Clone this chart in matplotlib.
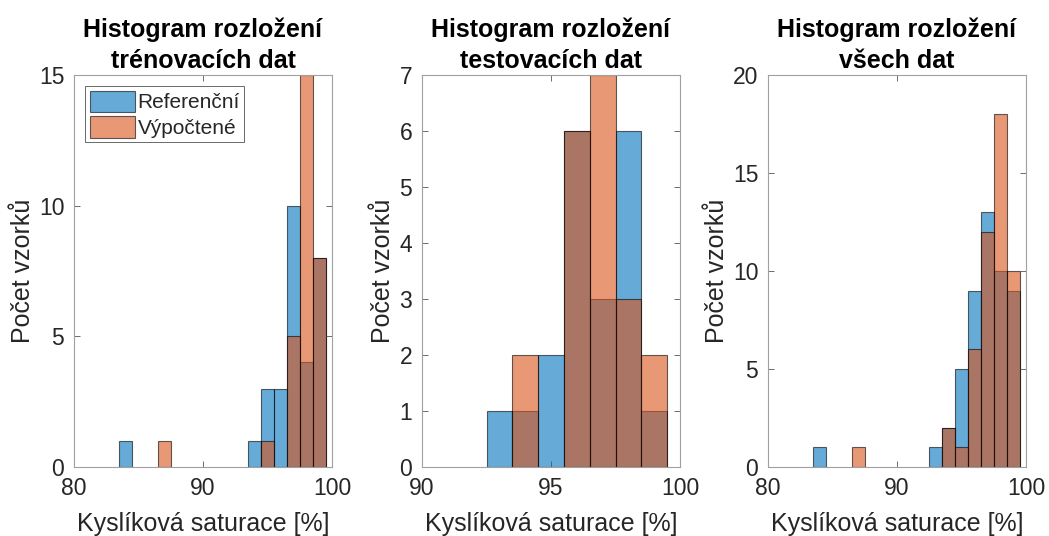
import numpy as np
import matplotlib.pyplot as plt

# counts per 1 % bin (key = left bin edge) for each data set
train_ref = {83.5: 1, 93.5: 1, 94.5: 3, 95.5: 3, 96.5: 10, 97.5: 4, 98.5: 8}
train_calc = {86.5: 1, 94.5: 1, 96.5: 5, 97.5: 15, 98.5: 8}

test_ref = {92.5: 1, 93.5: 1, 94.5: 2, 95.5: 6, 96.5: 3, 97.5: 6, 98.5: 1}
test_calc = {93.5: 2, 95.5: 6, 96.5: 7, 97.5: 3, 98.5: 2}

all_ref = {83.5: 1, 92.5: 1, 93.5: 2, 94.5: 5, 95.5: 9, 96.5: 13, 97.5: 10, 98.5: 9}
all_calc = {86.5: 1, 93.5: 2, 94.5: 1, 95.5: 6, 96.5: 12, 97.5: 18, 98.5: 10}

titles = ['Histogram rozložení\ntrénovacích dat',
          'Histogram rozložení\ntestovacích dat',
          'Histogram rozložení\nvšech dat']
xlims = [(80, 100), (90, 100), (80, 100)]
xticks = [[80, 90, 100], [90, 95, 100], [80, 90, 100]]
ylims = [15, 7, 20]
yticks = [[0, 5, 10, 15], list(range(8)), [0, 5, 10, 15, 20]]

blue = (0.0, 0.447, 0.741)
orange = (0.85, 0.325, 0.098)
txt = '#262626'

plt.rcParams['font.family'] = ['Liberation Sans', 'DejaVu Sans']

fig = plt.figure(figsize=(10.49, 5.36), dpi=100)
W, H = 1049, 536
lefts = [74, 422, 768]
axw = 258
top, bottom = 75, 467

datasets = [(train_ref, train_calc), (test_ref, test_calc), (all_ref, all_calc)]

for i, (ref, calc) in enumerate(datasets):
    ax = fig.add_axes([lefts[i] / W, 1 - bottom / H, axw / W, (bottom - top) / H])
    for counts, col, lab in [(ref, blue, 'Referenční'), (calc, orange, 'Výpočtené')]:
        left = list(counts.keys())
        vals = list(counts.values())
        ax.bar(left, vals, width=1.0, align='edge', color=col, alpha=0.6,
               edgecolor='black', linewidth=0.8, label=lab)
    ax.set_xlim(*xlims[i])
    ax.set_ylim(0, ylims[i])
    ax.set_xticks(xticks[i])
    ax.set_yticks(yticks[i])
    ax.tick_params(direction='in', top=True, right=True, labelsize=16.5,
                   labelcolor=txt, color='#555555', length=4, width=0.6, pad=7)
    for s in ax.spines.values():
        s.set_color('#a0a0a0')
        s.set_linewidth(0.8)
    ax.set_title(titles[i], fontsize=18, fontweight='bold', color='black', pad=5,
                 linespacing=1.35)
    ax.set_xlabel('Kyslíková saturace [%]', fontsize=18, color=txt, labelpad=9)
    ax.set_ylabel('Počet vzorků', fontsize=18, color=txt, labelpad=3)
    if i == 0:
        leg = ax.legend(loc='upper left', fontsize=15, frameon=True, fancybox=False,
                        borderaxespad=0.55, handlelength=2.2, handleheight=1.2,
                        handletextpad=0.1, borderpad=0.2, labelspacing=0.2)
        leg.get_frame().set_edgecolor('#262626')
        leg.get_frame().set_linewidth(0.6)
        for t in leg.get_texts():
            t.set_color(txt)

fig.savefig('out.png', dpi=100)
